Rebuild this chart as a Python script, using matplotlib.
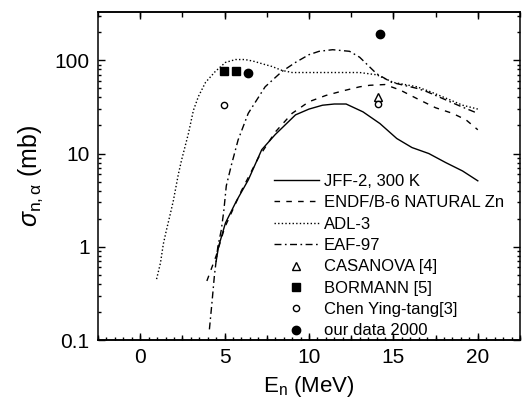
import matplotlib
matplotlib.use("Agg")
import matplotlib.pyplot as plt
from matplotlib.ticker import MultipleLocator, LogLocator, FuncFormatter, NullFormatter

plt.rcParams['font.family'] = ['Liberation Sans', 'DejaVu Sans']
plt.rcParams['mathtext.fontset'] = 'custom'
plt.rcParams['mathtext.rm'] = 'Liberation Sans'
plt.rcParams['mathtext.it'] = 'Liberation Sans:italic'

# ---- data ----
jff_E = [4.5, 4.64, 5.05, 5.7, 6.4, 7.2, 8.0, 9.2, 10.0, 10.8, 11.5, 12.2, 13.2, 14.2, 15.2, 16.1, 17.1, 18.1, 19.1, 20.0]
jff_s = [0.7, 1.0, 1.8, 3.1, 5.2, 11, 16, 26, 30, 33, 34, 34, 28, 21, 14.5, 11.6, 10, 8, 6.5, 5.1]

endf_E = [3.95, 4.5, 5.0, 6.0, 7.0, 8.0, 9.0, 10.0, 11.0, 12.0, 13.0, 13.6, 14.5, 15.4, 16.5, 17.5, 18.5, 19.3, 20.0]
endf_s = [0.43, 0.8, 1.6, 4.0, 9.0, 17, 27, 36, 42, 47, 52, 54, 55, 48, 38, 31, 27, 23, 18]

adl_E = [0.97, 1.2, 1.37, 1.55, 1.77, 1.96, 2.26, 2.45, 2.86, 3.15, 3.45, 3.87, 4.45, 5.05, 5.65, 6.2, 6.7, 7.4, 7.8, 8.4, 9.0, 10, 11, 12, 13, 14, 15, 16.4, 17.2, 18.3, 19.1, 20]
adl_s = [0.45, 0.67, 1.07, 1.5, 2.2, 3.1, 6, 8.5, 16.5, 29, 41, 58, 76, 95, 102, 102, 98, 90, 86, 78, 74, 74, 74, 74, 74, 70, 58, 52, 46, 38, 33, 30]

eaf_E = [4.1, 4.25, 4.4, 4.6, 4.8, 4.95, 5.1, 5.4, 5.8, 6.4, 7.4, 8.4, 9.2, 10.0, 10.6, 11.4, 12.4, 13.0, 14.0, 14.9, 16.4, 17.0, 18.2, 19.0, 20.0]
eaf_s = [0.13, 0.25, 0.5, 1.0, 1.5, 2.4, 4.5, 7.5, 14, 27, 52, 76, 95, 115, 125, 130, 125, 108, 72, 58, 50, 46, 37, 32, 27]

casanova_E = [14.1]
casanova_s = [40]
bormann_E = [4.95, 5.65]
bormann_s = [76, 76]
chen_E = [4.95, 14.1]
chen_s = [33, 34]
our_E = [6.4, 14.2]
our_s = [74, 190]

xticks = [0, 5, 10, 15, 20]

# ---- figure ----
fig = plt.figure(figsize=(5.23, 4.05), dpi=100)
ax = fig.add_axes([98/523, 65/405, 422/523, 328/405])

lw = 1.0
ax.plot(jff_E, jff_s, color='black', lw=lw, ls='-', label='JFF-2, 300 K')
ax.plot(endf_E, endf_s, color='black', lw=lw, dashes=(4, 4.5), label='ENDF/B-6 NATURAL Zn')
ax.plot(adl_E, adl_s, color='black', lw=lw, dashes=(1, 1.6), label='ADL-3')
ax.plot(eaf_E, eaf_s, color='black', lw=lw, dashes=(5, 2.5, 1.2, 2.5), label='EAF-97')
ax.plot(casanova_E, casanova_s, ls='none', marker='^', mfc='white', mec='black', ms=6, mew=1.0, label='CASANOVA [4]')
ax.plot(bormann_E, bormann_s, ls='none', marker='s', color='black', ms=6, label='BORMANN [5]')
ax.plot(chen_E, chen_s, ls='none', marker='o', mfc='white', mec='black', ms=4.5, mew=1.0, label='Chen Ying-tang[3]')
ax.plot(our_E, our_s, ls='none', marker='o', color='black', ms=6, label='our data 2000')

ax.set_yscale('log')
ax.set_xlim(-2.5, 22.5)
ax.set_ylim(0.1, 330)

ax.xaxis.set_major_locator(MultipleLocator(5))
ax.xaxis.set_minor_locator(MultipleLocator(0.5))
ax.set_xticks(xticks)
ax.yaxis.set_major_locator(LogLocator(base=10))
ax.yaxis.set_minor_locator(LogLocator(base=10, subs=range(2, 10)))
ax.yaxis.set_major_formatter(FuncFormatter(lambda v, p: '%g' % v))
ax.yaxis.set_minor_formatter(NullFormatter())

ax.tick_params(which='both', direction='in', top=True, right=True, width=1.0)
ax.tick_params(which='major', length=5, labelsize=15, pad=6)
ax.tick_params(which='minor', length=2.5)
ax.tick_params(axis='x', which='minor', top=False)

# medium ticks at 2.5 steps on bottom and top
for side in ('bottom', 'top'):
    sec = ax.secondary_xaxis(side)
    sec.set_xticks([v * 2.5 - 2.5 for v in range(0, 11)])
    sec.tick_params(direction='in', length=3.5, width=1.0, labelbottom=False, labeltop=False)
    sec.spines[side].set_linewidth(1.1)

for s in ax.spines.values():
    s.set_linewidth(1.1)

ax.set_xlabel(r'E$_\mathregular{n}$ (MeV)', fontsize=16)
ax.xaxis.set_label_coords(0.5, -0.105)
ax.set_ylabel(r'$\sigma_{\mathregular{n,\alpha}}$ (mb)', fontsize=18)
ax.yaxis.set_label_coords(-0.125, 0.5)

leg = ax.legend(loc='lower left', bbox_to_anchor=(0.413, 0.0), frameon=False,
                fontsize=12, handlelength=2.7, handletextpad=0.3, labelspacing=0.38,
                borderpad=0.1, borderaxespad=0.0, numpoints=1)

fig.savefig('out.png', dpi=100)
